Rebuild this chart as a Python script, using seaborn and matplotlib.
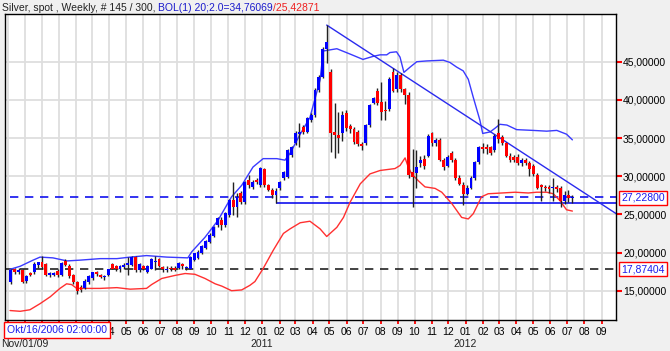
import numpy as np
import pandas as pd
import matplotlib
matplotlib.use("Agg")
import matplotlib.pyplot as plt
import seaborn as sns

# ---------------- data ----------------
opens = [16.2, 17.8, 17.4, 17.7, 16.3, 17.3, 17.5, 18.4, 18.7, 18.5,
         17.0, 17.1, 17.6, 17.0, 18.9, 18.3, 17.0, 16.1, 15.5, 15.3,
         16.1, 16.6, 17.5, 17.0, 16.85, 17.0, 18.5, 18.2, 17.9, 18.1,
         18.4, 18.4, 19.4, 17.7, 18.2, 17.4, 17.9, 18.8, 19.2, 18.1,
         17.7, 17.9, 18.0, 18.0, 18.5, 18.0, 17.9, 19.0, 19.3, 19.9,
         20.6, 21.4, 22.2, 23.6, 24.3, 23.6, 24.9, 26.9, 26.0, 27.8,
         26.6, 29.5, 28.6, 29.5, 28.85, 30.95, 28.85, 28.2, 27.5, 28.45,
         29.75, 29.9, 32.8, 34.35, 35.5, 36.45, 35.8, 37.35, 38.0, 41.3,
         43.0, 46.7, 43.65, 35.8, 35.4, 35.65, 38.3, 36.6, 36.2, 35.8,
         34.2, 34.35, 36.7, 39.6, 41.2, 39.7, 38.6, 38.8, 43.6, 41.4,
         43.2, 41.4, 40.7, 30.6, 30.4, 31.7, 32.3, 32.7, 35.6, 34.3,
         34.8, 32.1, 31.4, 33.0, 32.1, 29.7, 28.8, 27.7, 28.5, 29.7,
         31.8, 33.8, 33.8, 33.8, 33.4, 35.6, 35.1, 34.3, 32.7, 32.5,
         32.5, 31.7, 32.1, 31.7, 31.4, 30.2, 28.8, 28.6, 28.6, 28.4,
         28.6, 28.5, 26.8, 27.6, 27.1]
highs = [17.9, 18.0, 18.0, 17.9, 17.1, 17.5, 18.7, 18.8, 19.5, 18.6,
         17.5, 17.5, 17.8, 18.8, 19.1, 18.5, 17.2, 16.3, 15.8, 16.5,
         17.1, 17.5, 17.6, 17.2, 17.1, 17.9, 18.6, 18.4, 18.4, 18.6,
         19.4, 19.6, 19.6, 18.6, 18.4, 18.4, 19.3, 19.5, 19.3, 18.3,
         18.2, 18.3, 18.3, 18.7, 18.6, 18.3, 19.5, 20.0, 20.3, 21.0,
         21.7, 22.5, 23.5, 24.7, 24.6, 25.3, 27.0, 29.3, 27.8, 28.0,
         29.4, 30.1, 29.5, 29.8, 31.2, 31.1, 29.0, 28.4, 28.4, 29.4,
         30.7, 33.6, 34.0, 35.9, 36.95, 36.7, 37.8, 38.3, 41.5, 43.2,
         46.9, 49.8, 44.0, 39.6, 38.4, 38.6, 38.7, 36.9, 36.4, 36.0,
         34.5, 36.9, 39.5, 40.4, 41.5, 42.3, 39.9, 43.0, 44.2, 43.6,
         43.5, 41.6, 41.0, 33.6, 33.4, 32.6, 32.8, 35.5, 35.8, 35.0,
         35.0, 32.4, 32.8, 33.3, 32.4, 30.1, 29.2, 28.8, 30.0, 32.0,
         34.0, 34.3, 34.2, 34.0, 35.5, 37.5, 35.4, 34.5, 33.0, 32.8,
         32.9, 32.4, 32.4, 32.0, 31.6, 30.4, 29.0, 28.9, 28.9, 29.8,
         28.9, 28.7, 28.0, 28.2, 27.5]
lows = [15.9, 17.2, 17.2, 16.0, 16.0, 16.9, 17.2, 18.0, 17.9, 16.9,
        16.8, 16.9, 16.8, 16.9, 18.2, 16.7, 15.9, 14.6, 14.8, 15.2,
        15.9, 16.4, 16.9, 16.6, 16.4, 16.9, 17.8, 17.6, 17.5, 17.8,
        17.0, 18.2, 17.4, 17.5, 17.7, 17.3, 17.8, 17.7, 18.1, 17.5,
        17.4, 17.6, 17.6, 17.8, 17.9, 17.7, 17.8, 18.9, 19.2, 19.8,
        20.5, 21.3, 22.0, 23.4, 22.9, 23.4, 24.7, 24.9, 24.7, 26.3,
        26.4, 28.5, 28.3, 29.0, 28.6, 28.6, 28.0, 27.1, 26.45, 28.2,
        29.5, 29.7, 32.5, 34.1, 33.8, 35.5, 35.6, 37.1, 37.8, 41.0,
        42.8, 44.8, 33.2, 32.4, 33.0, 34.6, 35.9, 35.6, 34.2, 33.9,
        33.4, 34.1, 36.4, 39.4, 39.3, 37.3, 37.3, 38.5, 41.0, 41.0,
        41.0, 39.5, 29.8, 25.9, 28.4, 31.2, 31.0, 32.5, 34.0, 34.0,
        32.0, 30.8, 31.2, 31.9, 29.5, 28.8, 26.2, 27.5, 28.3, 29.5,
        31.6, 33.0, 32.9, 32.8, 33.2, 34.3, 34.1, 32.5, 31.9, 31.9,
        31.5, 31.4, 31.5, 30.0, 30.0, 28.3, 26.8, 28.0, 27.8, 26.8,
        27.9, 25.9, 26.4, 26.6, 26.5]
closes = [17.7, 17.4, 17.7, 16.2, 16.9, 17.0, 18.5, 18.7, 18.1, 17.1,
          17.3, 17.3, 17.0, 18.6, 18.4, 16.9, 16.1, 15.0, 15.1, 16.3,
          16.9, 17.4, 17.2, 16.8, 16.95, 17.8, 17.9, 17.8, 18.2, 18.4,
          18.6, 19.4, 17.7, 18.5, 17.8, 18.3, 19.2, 18.9, 18.3, 17.8,
          17.9, 17.8, 17.7, 18.6, 18.2, 18.1, 19.4, 19.9, 20.1, 20.85,
          21.5, 22.3, 23.35, 24.5, 23.6, 25.2, 26.9, 26.0, 27.3, 26.6,
          29.2, 28.9, 29.2, 29.3, 31.05, 28.85, 28.2, 27.55, 28.1, 29.2,
          30.55, 33.45, 33.85, 35.65, 35.8, 35.8, 37.6, 38.0, 41.3, 43.0,
          46.65, 47.6, 35.65, 35.4, 35.0, 38.0, 36.3, 36.2, 34.5, 34.2,
          33.95, 36.7, 39.3, 40.25, 39.6, 38.4, 38.5, 42.7, 41.2, 43.2,
          41.4, 40.6, 30.1, 29.9, 31.2, 32.1, 31.4, 35.3, 34.3, 34.7,
          32.1, 31.2, 32.5, 32.1, 29.7, 29.0, 27.7, 28.5, 29.7, 31.8,
          33.8, 33.5, 33.5, 33.1, 35.3, 34.9, 34.3, 32.7, 32.1, 32.1,
          31.7, 32.1, 31.7, 31.0, 30.3, 28.5, 28.6, 28.4, 28.3, 28.5,
          28.3, 26.8, 27.5, 27.1, 27.23]

# Bollinger bands (20;2.0): (week index, value)
upper_x = [-0.2, 2.4, 5.7, 7.5, 10.8, 14.4, 17.7, 22.9, 27.2, 30.6, 34.8, 40.0,
           45.4, 46.4, 49.8, 53.1, 56.6, 59.2, 62.1, 64.7, 68.2, 70.3, 71.6,
           74.2, 76.7, 79.3, 80.1, 83.6, 87.0, 90.3, 92.9, 94.7, 96.4, 97.2,
           98.9, 99.8, 100.8, 102.4, 104.1, 106.6, 110.9, 112.6, 114.3, 116.0,
           117.3, 118.6, 120.3, 121.0, 122.9, 124.2, 125.4, 127.2, 129.7,
           133.9, 137.4, 140.0, 142.5, 144.0]
upper_y = [17.8, 18.2, 19.0, 19.4, 19.3, 18.9, 19.0, 19.2, 19.2, 19.4, 19.6, 19.4,
           19.3, 20.1, 22.0, 24.2, 27.3, 28.8, 31.2, 32.3, 32.3, 32.1, 33.0,
           35.5, 37.7, 42.6, 46.4, 46.7, 46.0, 45.3, 45.7, 45.9, 45.9, 46.2,
           46.3, 45.6, 43.6, 44.3, 45.0, 45.1, 45.2, 44.9, 44.3, 43.8,
           42.7, 40.3, 37.3, 35.6, 35.8, 36.3, 36.8, 36.7, 36.1,
           36.0, 35.9, 36.0, 35.5, 34.76]
lower_x = [-0.2, 2.4, 4.9, 7.5, 10.1, 12.6, 14.3, 15.6, 16.9, 18.6, 22.9, 27.2,
           30.6, 34.8, 36.1, 38.7, 42.1, 44.7, 47.2, 49.8, 52.4, 54.1, 56.6,
           59.2, 61.3, 62.6, 64.7, 67.3, 69.9, 71.6, 74.2, 76.7, 79.3, 81.0,
           83.6, 85.3, 87.0, 89.6, 92.1, 94.7, 98.5, 99.8, 101.1, 101.9, 102.8,
           104.5, 106.2, 108.8, 110.5, 113.1, 115.6, 117.3, 118.6, 120.7, 122.4,
           125.9, 129.3, 132.7, 134.8, 137.4, 139.1, 140.8, 142.5, 144.0]
lower_y = [12.4, 12.3, 12.5, 13.3, 14.2, 15.3, 15.9, 15.8, 15.3, 15.3, 15.3, 15.4,
           15.2, 15.3, 15.8, 16.6, 17.0, 17.25, 17.15, 16.6, 15.9, 15.6, 15.0,
           15.1, 15.7, 16.2, 17.9, 20.3, 22.5, 23.1, 23.9, 24.1, 23.1, 22.1,
           23.3, 24.6, 26.6, 29.0, 30.3, 30.75, 31.0, 31.4, 32.4, 31.2, 30.3,
           29.4, 28.6, 28.4, 27.9, 26.4, 24.6, 24.4, 25.1, 27.3, 27.7,
           27.8, 27.9, 27.8, 27.9, 27.9, 27.7, 26.8, 25.6, 25.43]

trend_x = [81, 155.2]
trend_y = [49.8, 25.1]
support_start = 68
support_level = 26.45
last_price = 27.228
marker_level = 17.87404

ytick_values = [15, 20, 25, 30, 35, 40, 45]
ytick_labels = ["15,00000", "20,00000", "25,00000", "30,00000",
                "35,00000", "40,00000", "45,00000"]
month_starts = ["2009-10-01", "2009-11-01", "2009-12-01", "2010-01-01", "2010-02-01",
                "2010-03-01", "2010-04-01", "2010-05-01", "2010-06-01", "2010-07-01",
                "2010-08-01", "2010-09-01", "2010-10-01", "2010-11-01", "2010-12-01",
                "2011-01-01", "2011-02-01", "2011-03-01", "2011-04-01", "2011-05-01",
                "2011-06-01", "2011-07-01", "2011-08-01", "2011-09-01", "2011-10-01",
                "2011-11-01", "2011-12-01", "2012-01-01", "2012-02-01", "2012-03-01",
                "2012-04-01", "2012-05-01", "2012-06-01", "2012-07-01", "2012-08-01",
                "2012-09-01"]
# labels that sit fully under the date box in the reference are not visible there
month_labels = ["", "", "", "", "", "", "04", "05", "06", "07", "08", "09",
                "10", "11", "12", "01", "02", "03", "04", "05", "06", "07", "08", "09",
                "10", "11", "12", "01", "02", "03", "04", "05", "06", "07", "08", "09"]
first_bar = "2009-10-05"

# ---------------- figure ----------------
sns.set_style("white")
plt.rcParams['font.family'] = ['Liberation Sans', 'DejaVu Sans']
FS = 7.5
W, H = 670, 351
fig = plt.figure(figsize=(W / 100, H / 100), dpi=100, facecolor='#f0f0f0')
ax = fig.add_axes([5 / W, 31 / H, 611 / W, 306 / H])
ax.set_facecolor('white')

O = np.array(opens); Hh = np.array(highs); L = np.array(lows); C = np.array(closes)
idx = np.arange(len(C))

# month positions in week units
base = pd.Timestamp(first_bar)
mpos = [(pd.Timestamp(d) - base).days / 7.0 - 0.2 for d in month_starts]

ax.set_xlim(-1.49, 155.18)
ax.set_ylim(11.16, 51.25)
ax.set_xticks(mpos)
ax.set_xticklabels(month_labels)
ax.set_yticks(ytick_values)
ax.set_yticklabels(ytick_labels)
ax.yaxis.tick_right()
ax.grid(True, color='#dedede', lw=1.3, zorder=0)
ax.set_axisbelow(True)
ax.tick_params(axis='y', which='both', right=True, left=False, colors='red',
               length=4, width=1.5, direction='out', labelsize=FS, labelcolor='black', pad=1)
ax.tick_params(axis='x', which='both', bottom=True, colors='red', length=3, width=1.3,
               direction='out', labelsize=FS, labelcolor='black', pad=2)
for s in ax.spines.values():
    s.set_color('black')
    s.set_linewidth(1.0)

# horizontal reference lines
ax.axhline(marker_level, color='#222222', lw=1.2, ls=(0, (5, 4)), zorder=2)
ax.hlines(last_price, -0.2, 155.18, color='#1010ee', lw=1.2, linestyles=[(0, (5, 4))], zorder=2)
ax.hlines(support_level, support_start, 155.18, color='#1010ee', lw=1.2, zorder=2)

# bands and trendline
sns.lineplot(x=upper_x, y=upper_y, ax=ax, color='#3a3aff', lw=1.0, estimator=None, zorder=2)
sns.lineplot(x=lower_x, y=lower_y, ax=ax, color='#ff3030', lw=1.0, estimator=None, zorder=2)
sns.lineplot(x=trend_x, y=trend_y, ax=ax, color='#2a2aee', lw=1.0, estimator=None, zorder=2)

# candles
ax.vlines(idx, L, Hh, color='#222222', lw=1.0, zorder=3)
up = C >= O
heights = np.maximum(np.abs(C - O), 0.13)
bottoms = np.minimum(O, C)
ax.bar(idx, heights, bottom=bottoms, width=0.74,
       color=np.where(up, '#0000ff', '#ff0000'), linewidth=0, zorder=4)
ax.set_xlabel('')
ax.set_ylabel('')

# ---------------- texts ----------------
def px(x, y):
    return x / W, 1 - y / H

renderer = fig.canvas.get_renderer()
title_parts = [("Silver, spot , Weekly, # 145 / 300, ", '#222222'),
               ("BOL(1) 20;2.0=34,76069", '#1a1acc'),
               ("/25,42871", '#ee2020')]
xx = 2
for txt, col in title_parts:
    t = fig.text(*px(xx, 8), txt, color=col, fontsize=FS, ha='left', va='center')
    bb = t.get_window_extent(renderer)
    xx = bb.x1

box = dict(boxstyle='square,pad=0.18', facecolor='white', edgecolor='red', lw=1.0)
fig.text(*px(57, 330), "Okt/16/2006 02:00:00", color='#1a1aee', fontsize=FS,
         ha='center', va='center', bbox=dict(boxstyle='square,pad=0.25', facecolor='white',
                                              edgecolor='red', lw=1.0), zorder=10)
fig.text(*px(643, 198), "27,22800", color='#1a1aee', fontsize=FS, ha='center', va='center',
         bbox=box, zorder=10)
fig.text(*px(643, 269), "17,87404", color='#1a1aee', fontsize=FS, ha='center', va='center',
         bbox=box, zorder=10)

fig.text(*px(1, 344), "Nov/01/09", color='#222222', fontsize=FS, ha='left', va='center')
fig.text(*px(262, 344), "2011", color='#222222', fontsize=FS, ha='center', va='center')
fig.text(*px(465, 344), "2012", color='#222222', fontsize=FS, ha='center', va='center')

fig.savefig("out.png", dpi=100, facecolor=fig.get_facecolor())
